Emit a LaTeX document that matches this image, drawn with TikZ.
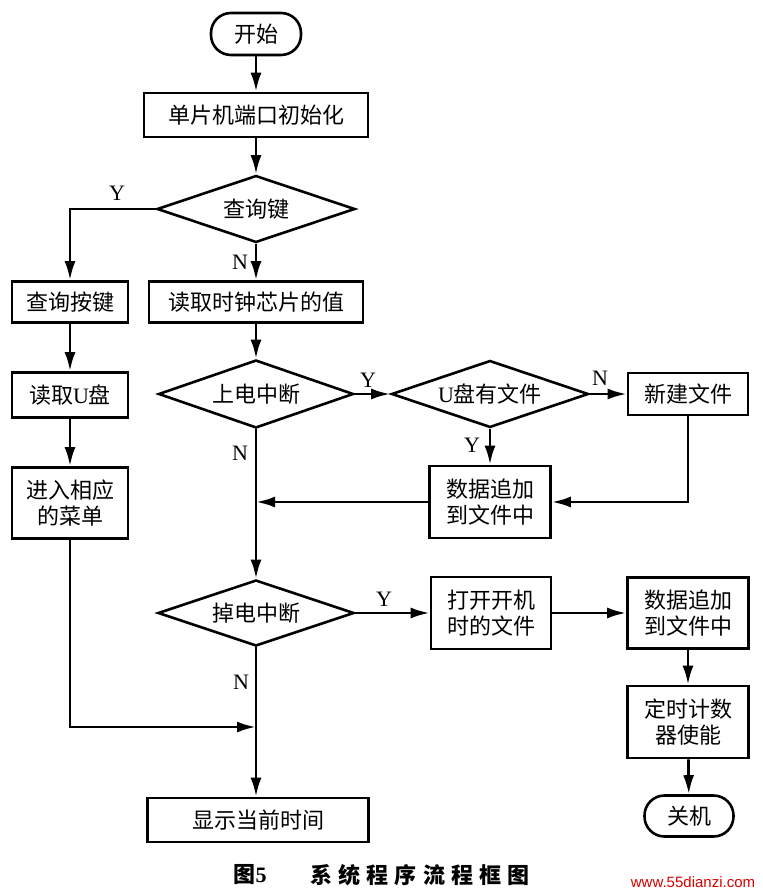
\documentclass[tikz,border=0pt]{standalone}
\usepackage{fontspec}
\setmainfont{Noto Sans CJK SC}
\newfontfamily\lat{Liberation Serif}
\newfontfamily\capfont[LetterSpace=28]{Noto Sans CJK SC}
\newfontfamily\wmfont{Liberation Sans}
\usetikzlibrary{arrows.meta,shapes.geometric}
\begin{document}
\begin{tikzpicture}[x=1pt,y=-1pt,
  box/.style={draw, line width=2.6pt, inner sep=0pt, align=center,
    font=\fontsize{22}{26}\selectfont},
  term/.style={box, rounded corners=20pt},
  dia/.style={diamond, draw, line width=2.6pt, aspect=3, inner sep=0pt,
    font=\fontsize{22}{26}\selectfont},
  lbl/.style={font=\lat\fontsize{22}{24}\selectfont, inner sep=0pt},
  arr/.style={-{Latex[length=19pt,width=11pt]}, line width=2.8pt}]
\useasboundingbox (0,0) rectangle (762,893);

% main column
\node[term, minimum width=90pt, minimum height=42pt] (start) at (256,34) {开始};
\node[box, minimum width=224pt, minimum height=44pt] (init) at (256,115) {单片机端口初始化};
\node[dia, minimum width=198pt, minimum height=67pt] (q) at (256,209) {查询键};
\node[box, minimum width=214pt, minimum height=41pt] (clk) at (256,302) {读取时钟芯片的值};
\node[dia, minimum width=195pt, minimum height=68pt] (pon) at (256,394) {上电中断};
\node[dia, minimum width=196pt, minimum height=66pt] (poff) at (256,613) {掉电中断};
\node[box, minimum width=221pt, minimum height=44pt] (disp) at (258,820) {显示当前时间};

% left column
\node[box, minimum width=116pt, minimum height=41pt] (k1) at (70,302) {查询按键};
\node[box, minimum width=116pt, minimum height=45pt] (k2) at (70,395) {读取{\lat U}盘};
\node[box, minimum width=116pt, minimum height=71pt] (menu) at (70,503) {进入相应\\的菜单};

% middle column
\node[dia, minimum width=197pt, minimum height=67pt] (uf) at (490,394) {{\lat U}盘有文件};
\node[box, minimum width=121pt, minimum height=72pt] (d1) at (490,502) {数据追加\\到文件中};
\node[box, minimum width=120pt, minimum height=72pt] (of) at (491,613) {打开开机\\时的文件};

% right column
\node[box, minimum width=120pt, minimum height=42pt] (nf) at (688,394) {新建文件};
\node[box, minimum width=121pt, minimum height=71pt] (d2) at (688,613) {数据追加\\到文件中};
\node[box, minimum width=121pt, minimum height=72pt] (tm) at (688,722) {定时计数\\器使能};
\node[term, minimum width=89pt, minimum height=41pt] (off) at (689,816) {关机};

% merge points
\coordinate (m1) at (256,502);
\coordinate (m2) at (256,727);

% connectors
\draw[arr] (start) -- (init);
\draw[arr] (init) -- (q);
\draw[arr] (q.west) -| (k1.north);
\draw[arr] (q) -- (clk);
\draw[arr] (k1) -- (k2);
\draw[arr] (k2) -- (menu);
\draw[arr] (menu.south) |- (m2);
\draw[arr] (clk) -- (pon);
\draw[arr] (pon.east) -- (uf.west);
\draw[arr] (uf.east) -- (nf.west);
\draw[arr] (uf.south) -- (uf.south |- d1.north);
\draw[arr] (nf.south) |- (d1.east);
\draw[arr] (d1.west) -- (m1);
\draw[arr] (pon.south) -- (poff.north);
\draw[arr] (poff.east) -- (of.west);
\draw[arr] (of) -- (d2);
\draw[arr] (d2) -- (tm);
\draw[arr] (tm) -- (off);
\draw[arr] (poff.south) -- (poff.south |- disp.north);

% labels
\node[lbl] (y1) at (117,193) {Y};
\node[lbl] (n1) at (240,262) {N};
\node[lbl] (y2) at (368,380) {Y};
\node[lbl] (n2) at (600,378) {N};
\node[lbl] (y3) at (472,445) {Y};
\node[lbl] (n3) at (240,453) {N};
\node[lbl] (y4) at (384,599) {Y};
\node[lbl] (n4) at (241,682) {N};

% caption
\node[inner sep=0pt, font=\capfont\bfseries\fontsize{22}{24}\selectfont] (cap1) at (250,875) {图{\lat\bfseries 5}};
\node[inner sep=0pt, font=\capfont\bfseries\fontsize{22}{24}\selectfont] (cap2) at (420,875) {系统程序流程框图};
\node[inner sep=0pt, text=red!85!black, font=\wmfont\fontsize{15}{16}\selectfont] (wm) at (693,882) {www.55dianzi.com};
\end{tikzpicture}
\end{document}
